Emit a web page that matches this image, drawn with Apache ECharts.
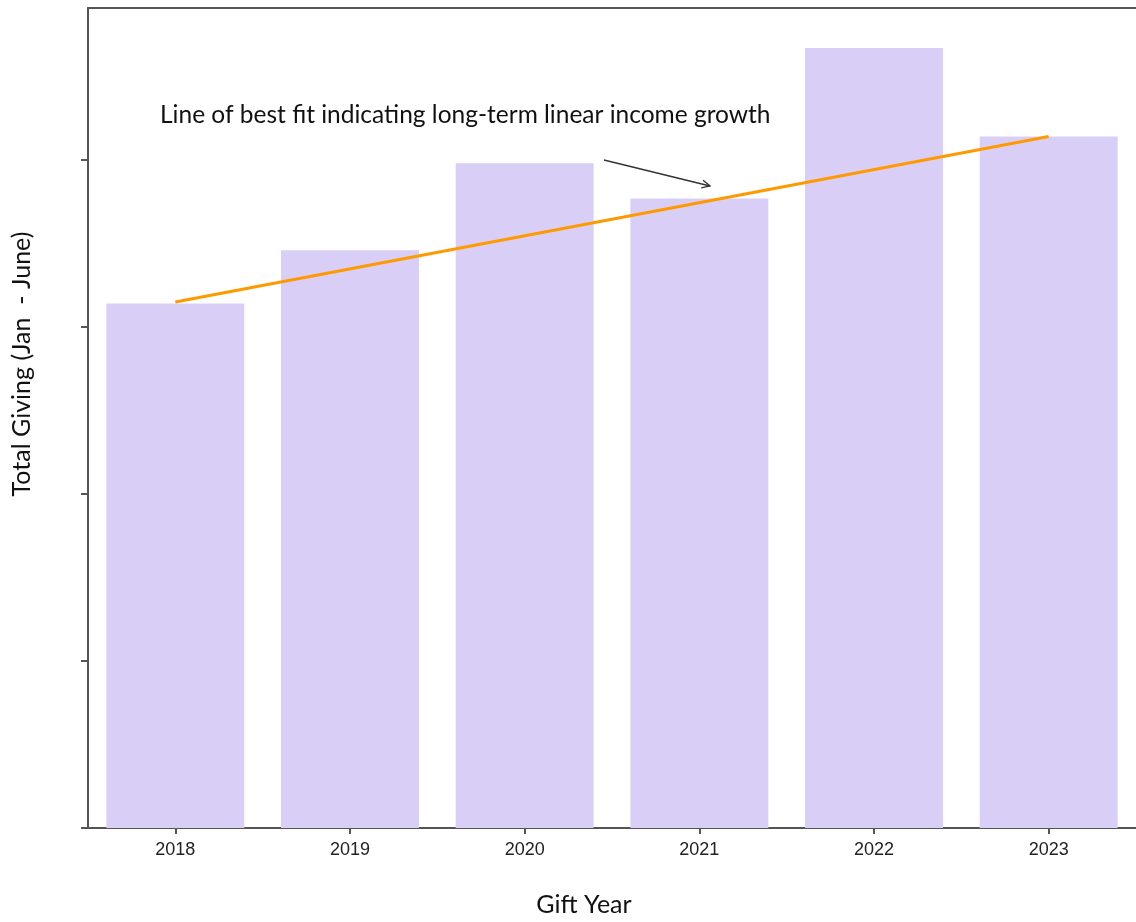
<!DOCTYPE html>
<html>
<head>
<meta charset="utf-8">
<script src="https://cdn.jsdelivr.net/npm/echarts@6/dist/echarts.min.js"></script>
<style>
html,body{margin:0;padding:0;background:#fff;overflow:hidden;}
#chart{width:1136px;height:922px;}
</style>
</head>
<body>
<div id="chart"></div>
<script>
const years = ['2018','2019','2020','2021','2022','2023'];
const totalGiving = [314, 346, 398, 377, 467, 414];
const fitLine = [315, '-', '-', '-', '-', 414];
const yTicks = [0, 100, 200, 300, 400];
const annotationText = 'Line of best fit indicating long-term linear income growth';

const titleFont = 'Lato, "Noto Sans", sans-serif';
const chart = echarts.init(document.getElementById('chart'));

// arrow geometry
const a0 = [604, 160], a1 = [710, 186];
const ang = Math.atan2(a1[1]-a0[1], a1[0]-a0[0]);
const hl = 9, hw = 0.45;
const h1 = [a1[0]-hl*Math.cos(ang-hw), a1[1]-hl*Math.sin(ang-hw)];
const h2 = [a1[0]-hl*Math.cos(ang+hw), a1[1]-hl*Math.sin(ang+hw)];

chart.setOption({
  animation: false,
  backgroundColor: '#fff',
  grid: {left: 88, right: -3, top: 8, bottom: 94, containLabel: false},
  xAxis: [{
    type: 'category',
    data: years,
    axisLine: {show: true, lineStyle: {color: '#555', width: 2}},
    axisTick: {show: true, alignWithLabel: true, length: 6, lineStyle: {color: '#555', width: 2}},
    axisLabel: {color: '#222', fontSize: 18, fontFamily: '"Liberation Sans", Arial, sans-serif', margin: 13}
  }, {
    type: 'category',
    data: years,
    position: 'top',
    axisLine: {show: true, lineStyle: {color: '#555', width: 2}},
    axisTick: {show: false},
    axisLabel: {show: false}
  }],
  yAxis: {
    type: 'value',
    min: 0,
    max: 491,
    interval: 100,
    axisLine: {show: true, lineStyle: {color: '#555', width: 2}},
    axisTick: {show: true, length: 7, customValues: yTicks, lineStyle: {color: '#555', width: 2}},
    axisLabel: {show: false},
    splitLine: {show: false}
  },
  series: [{
    type: 'bar',
    data: totalGiving,
    barCategoryGap: '21%',
    itemStyle: {color: '#d9cff6'}
  }, {
    type: 'line',
    data: fitLine,
    connectNulls: true,
    symbol: 'none',
    lineStyle: {color: '#ff9900', width: 3}
  }],
  graphic: [{
    type: 'text',
    left: 160,
    top: 103,
    style: {text: annotationText, fill: '#111', fontSize: 24.5, fontFamily: titleFont}
  }, {
    type: 'text',
    x: 22,
    y: 364,
    rotation: Math.PI/2,
    style: {text: 'Total Giving (Jan  - June)', fill: '#111', fontSize: 25, fontFamily: titleFont, align: 'center', verticalAlign: 'middle'}
  }, {
    type: 'text',
    x: 584,
    y: 905,
    style: {text: 'Gift Year', fill: '#111', fontSize: 25, fontFamily: titleFont, align: 'center', verticalAlign: 'middle'}
  }, {
    type: 'polyline',
    shape: {points: [a0, a1]},
    style: {stroke: '#333', lineWidth: 1.3, fill: null}
  }, {
    type: 'polyline',
    shape: {points: [h1, a1, h2]},
    style: {stroke: '#333', lineWidth: 1.3, fill: null}
  }]
});
</script>
</body>
</html>
